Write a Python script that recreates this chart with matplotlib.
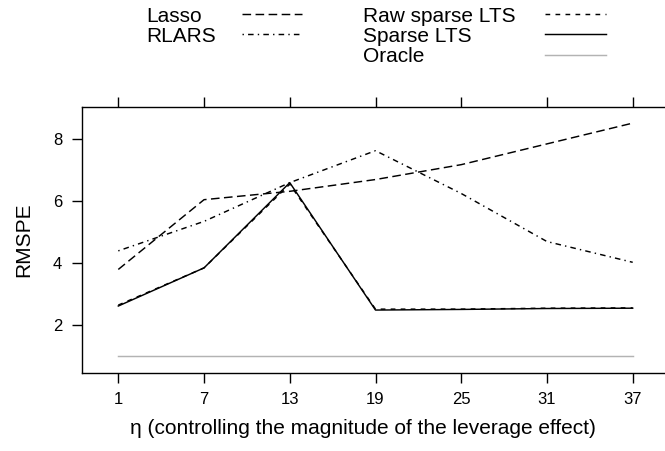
import matplotlib
matplotlib.use("Agg")
import matplotlib.pyplot as plt
from matplotlib.lines import Line2D

plt.rcParams['font.family'] = ['Liberation Sans', 'DejaVu Sans']
plt.rcParams['lines.scale_dashes'] = False

eta = [1, 7, 13, 19, 25, 31, 37]
lasso = [3.8, 6.05, 6.32, 6.7, 7.18, 7.85, 8.52]
rlars = [4.4, 5.35, 6.6, 7.63, 6.25, 4.7, 4.03]
raw_sparse_lts = [2.65, 3.85, 6.55, 2.52, 2.52, 2.55, 2.56]
sparse_lts = [2.62, 3.85, 6.6, 2.49, 2.51, 2.54, 2.55]
oracle = [1.0, 1.0, 1.0, 1.0, 1.0, 1.0, 1.0]
yticks = [2, 4, 6, 8]

W, H = 665, 451
fig = plt.figure(figsize=(W / 100, H / 100), dpi=100)
ax = fig.add_axes([82 / W, 1 - 373.3 / H, (669 - 82) / W, (373.3 - 107.3) / H])

lw = 1.05
series = [
    ("Lasso", lasso, dict(color="black", linestyle=(0, (6.2, 3.2)))),
    ("RLARS", rlars, dict(color="black", linestyle=(0, (1, 3, 4, 3)))),
    ("Raw sparse LTS", raw_sparse_lts, dict(color="black", linestyle=(0, (3.4, 3.8)))),
    ("Sparse LTS", sparse_lts, dict(color="black", linestyle="-")),
    ("Oracle", oracle, dict(color="#b3b3b3", linestyle="-")),
]
for name, vals, st in series:
    ax.plot(eta, vals, lw=lw, **st)

ax.set_xlim(-1.54, 39.54)
ax.set_ylim(0.45, 9.03)
ax.set_xticks(eta)
ax.set_yticks(yticks)
ax.tick_params(axis='x', which='both', top=True, bottom=True, labeltop=False,
               direction='out', length=7.2, width=1, labelsize=12, pad=6)
ax.tick_params(axis='y', which='both', left=True, right=False,
               direction='out', length=7.2, width=1, labelsize=12, pad=7)
for s in ax.spines.values():
    s.set_linewidth(1)

fig.text(363 / W, 1 - 428 / H, "η (controlling the magnitude of the leverage effect)",
         fontsize=15, ha='center', va='center')
fig.text(24 / W, 1 - 240 / H, "RMSPE", fontsize=15, ha='center', va='center', rotation=90)

# legend (lattice-style key)
col_text_x = [146, 363.3]
col_line_x = [(241.7, 301.7), (545, 606)]
rows_y = [14, 34, 55]
layout = [(0, 0), (0, 1), (1, 0), (1, 1), (1, 2)]
for (name, vals, st), (c, r) in zip(series, layout):
    y = 1 - rows_y[r] / H
    fig.text(col_text_x[c] / W, y, name, fontsize=15, ha='left', va='center_baseline')
    x0, x1 = col_line_x[c]
    fig.add_artist(Line2D([x0 / W, x1 / W], [y, y], transform=fig.transFigure, lw=lw, **st))

fig.savefig("out.png", dpi=100)
